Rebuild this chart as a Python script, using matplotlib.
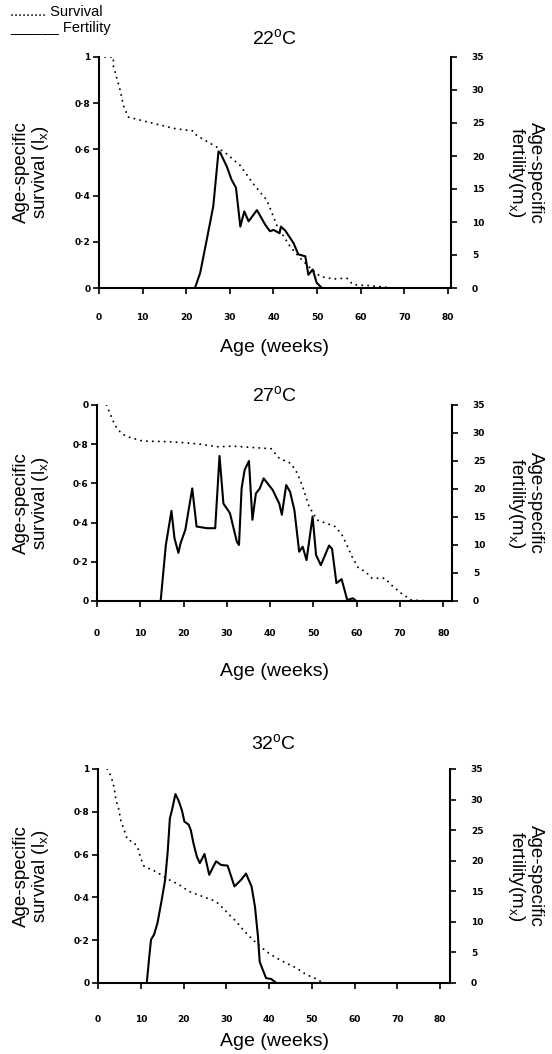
import matplotlib
matplotlib.use("Agg")
import matplotlib.pyplot as plt
from matplotlib.ticker import FixedLocator, FixedFormatter

plt.rcParams['font.family'] = ['Liberation Sans', 'DejaVu Sans']
plt.rcParams['mathtext.fontset'] = 'custom'
plt.rcParams['mathtext.rm'] = 'Liberation Sans'
plt.rcParams['mathtext.it'] = 'Liberation Sans'

# ---------------- data ----------------
# 22 C
age22_surv = [0, 3.3, 3.3, 4.8, 5.6, 6.7, 10.9, 17.4, 21.6, 22.4, 27.0, 29.3, 32.4, 35.4,
              38.5, 40.8, 43.8, 46.1, 48.4, 50.7, 53.8, 56.8, 58.3, 62.2, 65.6, 66.8]
surv22 = [1.0, 1.0, 0.96, 0.86, 0.79, 0.74, 0.72, 0.69, 0.68, 0.66, 0.61, 0.58, 0.53, 0.45,
          0.38, 0.27, 0.18, 0.13, 0.087, 0.05, 0.039, 0.043, 0.014, 0.01, 0.004, 0.0]
age22_fert = [22.0, 23.2, 24.7, 26.2, 27.4, 27.8, 29.3, 30.4, 31.4, 32.4, 33.3, 34.3, 36.2,
              38.1, 39.2, 40.0, 41.4, 41.7, 42.7, 44.6, 45.7, 47.3, 48.0, 49.0, 49.9, 51.1]
fert22 = [0.0, 2.3, 7.3, 12.4, 20.7, 20.5, 18.4, 16.4, 15.2, 9.3, 11.6, 10.1, 11.8,
          9.6, 8.6, 8.8, 8.3, 9.3, 8.7, 6.8, 5.1, 4.8, 2.0, 2.8, 0.8, 0.0]

# 27 C
age27_surv = [2.2, 3.0, 4.1, 5.6, 7.1, 10.5, 16.2, 20.0, 23.9, 27.7, 31.5, 35.3, 40.2, 42.1,
              44.8, 46.3, 47.5, 49.0, 50.9, 55.1, 56.6, 57.7, 58.9, 60.4, 62.0, 63.5, 66.5,
              68.4, 70.3, 72.6, 76.8]
surv27 = [1.0, 0.957, 0.898, 0.855, 0.838, 0.816, 0.813, 0.808, 0.80, 0.787, 0.79, 0.784,
          0.777, 0.728, 0.702, 0.651, 0.583, 0.481, 0.413, 0.379, 0.337, 0.286, 0.226, 0.167,
          0.15, 0.116, 0.116, 0.073, 0.039, 0.005, 0.0]
age27_fert = [14.7, 15.9, 17.2, 17.9, 18.8, 19.3, 20.4, 22.0, 23.0, 25.4, 27.3, 28.3, 29.2,
              30.7, 32.3, 32.8, 33.4, 34.1, 35.1, 35.9, 36.7, 37.6, 38.5, 40.6, 42.1, 42.7,
              43.7, 44.6, 45.6, 46.7, 47.5, 48.4, 49.8, 50.6, 51.7, 53.6, 54.3, 55.3, 56.5,
              57.8, 59.1, 59.9]
fert27 = [0.0, 10.0, 16.1, 11.2, 8.6, 10.3, 12.7, 20.1, 13.3, 13.0, 13.0, 25.9, 17.4,
          15.7, 10.6, 10.0, 20.1, 23.4, 25.0, 14.5, 19.2, 20.1, 21.9, 19.8, 17.4, 15.4,
          20.7, 19.5, 16.2, 8.8, 9.7, 7.3, 15.1, 8.2, 6.4, 9.9, 9.3, 3.2, 3.9,
          0.18, 0.48, 0.0]

# 32 C
age32_surv = [2.2, 3.1, 3.8, 4.2, 4.9, 5.3, 6.1, 6.9, 8.1, 9.2, 10.0, 10.8, 13.5, 16.7, 19.0,
              21.3, 24.5, 27.6, 29.2, 30.7, 32.3, 33.9, 35.4, 37.0, 39.3, 41.7, 44.0, 46.4,
              48.7, 51.1, 52.6]
surv32 = [1.0, 0.964, 0.91, 0.855, 0.809, 0.762, 0.715, 0.669, 0.661, 0.638, 0.583, 0.544,
          0.521, 0.482, 0.459, 0.428, 0.404, 0.381, 0.35, 0.319, 0.288, 0.249, 0.218, 0.187,
          0.148, 0.117, 0.093, 0.07, 0.039, 0.019, 0.0]
age32_fert = [11.4, 12.0, 12.4, 13.1, 13.9, 14.9, 15.7, 16.3, 16.8, 17.4, 18.1, 18.8, 19.6,
              20.2, 21.2, 21.7, 22.3, 23.1, 23.8, 24.9, 26.0, 27.6, 28.8, 30.3, 31.9, 33.5,
              34.6, 35.9, 36.7, 37.4, 37.8, 38.5, 39.3, 40.5, 41.7]
fert32 = [0.0, 4.4, 7.1, 7.9, 9.8, 13.6, 16.9, 21.5, 26.9, 28.6, 30.9, 29.9, 28.3,
          26.4, 25.9, 25.0, 22.9, 20.7, 19.6, 21.1, 17.7, 19.9, 19.3, 19.2, 15.8, 16.9,
          17.9, 15.8, 12.5, 7.6, 3.5, 2.2, 0.8, 0.65, 0.0]

titles = ['22', '27', '32']
x_ticks = [0, 10, 20, 30, 40, 50, 60, 70, 80]
left_ticks = [0, 0.2, 0.4, 0.6, 0.8, 1.0]
left_labels_std = ['0', '0·2', '0·4', '0·6', '0·8', '1']
left_labels_mid = ['0', '0·2', '0·4', '0·6', '0·8', '0']
right_ticks = [0, 5, 10, 15, 20, 25, 30, 35]

panels = [
    (age22_surv, surv22, age22_fert, fert22, titles[0], left_labels_std),
    (age27_surv, surv27, age27_fert, fert27, titles[1], left_labels_mid),
    (age32_surv, surv32, age32_fert, fert32, titles[2], left_labels_std),
]

# ---------------- layout (pixel boxes) ----------------
W, H = 552, 1054
fig = plt.figure(figsize=(W / 100, H / 100), dpi=100)

boxes = [  # left, right, top, bottom (px)
    (99, 451, 57, 288),
    (97, 452, 405, 601),
    (98, 450, 769, 983),
]
xlims = [(0, 80.7), (0, 82.0), (0, 82.3)]
xpads = [14, 16.5, 19]
title_y = [38, 395, 743]
xlabel_y = [347, 671, 1042]

for i, (ax_s, s, ax_f, f, t, llabels) in enumerate(panels):
    l, r, tp, b = boxes[i]
    ax = fig.add_axes([l / W, 1 - b / H, (r - l) / W, (b - tp) / H])
    ax2 = ax.twinx()

    ax.plot(ax_s, s, color='black', linestyle=(0, (0.05, 3.0)), linewidth=1.4,
            dash_capstyle='round', solid_capstyle='round')
    ax2.plot(ax_f, f, color='black', linestyle='-', linewidth=1.5)

    ax.set_xlim(*xlims[i])
    ax.set_ylim(0, 1.0)
    ax2.set_ylim(0, 35)

    for a in (ax, ax2):
        a.spines['top'].set_visible(False)
        for sp in ('left', 'right', 'bottom'):
            a.spines[sp].set_linewidth(1.5)
    ax.spines['right'].set_visible(False)
    ax2.spines['left'].set_visible(False)
    ax2.spines['bottom'].set_visible(False)

    ax.xaxis.set_major_locator(FixedLocator(x_ticks))
    ax.set_xticklabels([str(v) for v in x_ticks])
    ax.yaxis.set_major_locator(FixedLocator(left_ticks))
    ax.yaxis.set_major_formatter(FixedFormatter(llabels))
    ax2.yaxis.set_major_locator(FixedLocator(right_ticks))
    ax2.set_yticklabels([str(v) for v in right_ticks])

    ax.tick_params(axis='x', direction='out', length=4, width=1.2, pad=xpads[i],
                   labelsize=6.5)
    ax.tick_params(axis='y', direction='out', length=4, width=1.2, pad=2,
                   labelsize=6.5)
    ax2.tick_params(axis='y', direction='out', length=4, width=1.2, pad=11,
                    labelsize=6.5)
    for lab in ax.get_xticklabels() + ax.get_yticklabels() + ax2.get_yticklabels():
        lab.set_fontfamily('DejaVu Sans')
        lab.set_fontweight('bold')

    cx = (l + r) / 2 / W
    cy = 1 - (tp + b) / 2 / H
    fig.text(cx, 1 - title_y[i] / H, t + r'$^{\mathregular{o}}$C', ha='center',
             va='center', fontsize=14)
    fig.text(cx, 1 - xlabel_y[i] / H, 'Age (weeks)', ha='center', va='center',
             fontsize=14)
    fig.text(32 / W, cy, 'Age-specific\nsurvival (l$_{\\mathregular{x}}$)', ha='center',
             va='center', rotation=90, fontsize=13.5, linespacing=1.0)
    fig.text(525 / W, cy, 'Age-specific\nfertility(m$_{\\mathregular{x}}$)', ha='center',
             va='center', rotation=270, fontsize=13.5, linespacing=1.0)

fig.text(10 / W, 1 - 12 / H, '......... Survival', ha='left', va='center', fontsize=10.5)
fig.text(10 / W, 1 - 28 / H, '______ Fertility', ha='left', va='center', fontsize=10.5)

fig.savefig('out.png', dpi=100)
